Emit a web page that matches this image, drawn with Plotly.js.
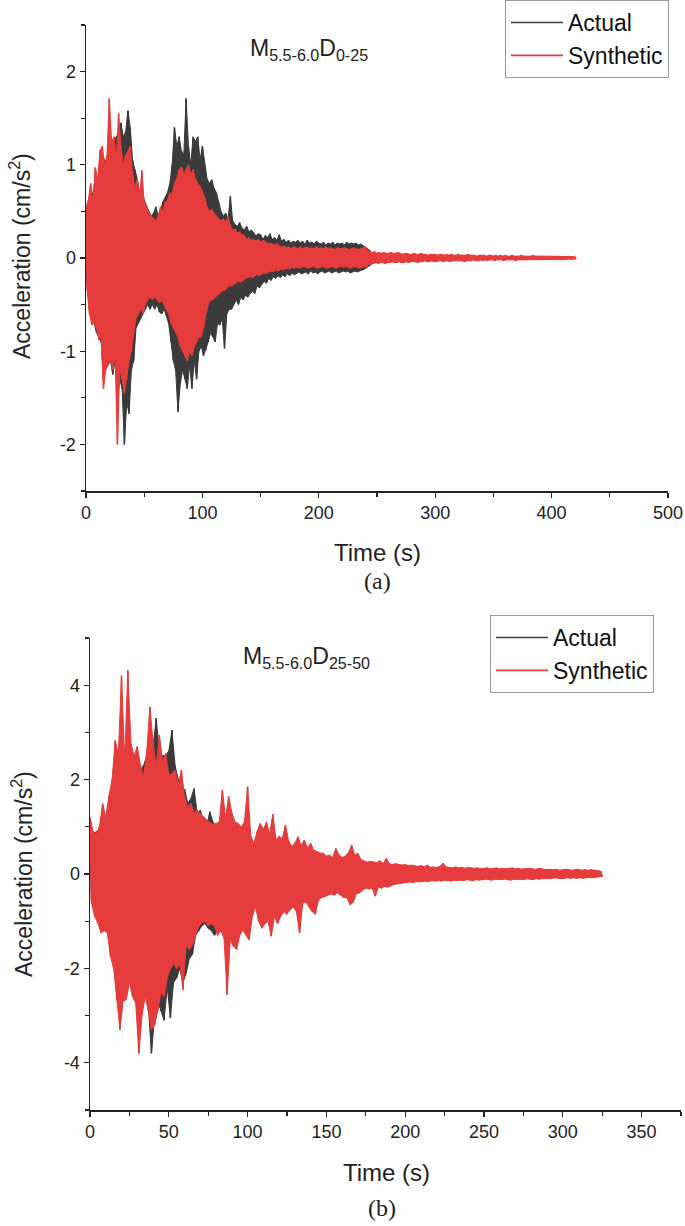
<!DOCTYPE html>
<html>
<head>
<meta charset="utf-8">
<script src="https://cdn.plot.ly/plotly-3.0.1.min.js"></script>
<style>
html,body{margin:0;padding:0;background:#fff;}
#chart{width:685px;height:1226px;}
</style>
</head>
<body>
<div id="chart"></div>
<script>
// ---------------- DATA ----------------
// Sampling of the envelope: one positive peak and one negative peak per bin
const binA = 2;   // s, panel (a)
const binB = 2;   // s, panel (b)

// Panel (a) M5.5-6.0 D0-25 : Synthetic (bins from 0 to 420 s)
const synA_up = [
0.55,0.62,0.80,0.60,0.97,0.85,1.15,1.20,1.00,1.10,
1.71,1.25,1.30,1.05,1.55,1.20,1.00,1.10,1.15,1.20,
0.90,0.75,0.85,0.65,0.94,0.60,0.55,0.48,0.45,0.42,
0.40,0.45,0.55,0.50,0.60,0.62,0.70,0.68,0.80,0.85,
0.95,0.98,0.90,0.95,1.00,0.90,0.95,0.85,0.80,0.77,
0.70,0.65,0.55,0.50,0.52,0.48,0.45,0.42,0.40,0.42,
0.38,0.44,0.35,0.30,0.31,0.27,0.28,0.25,0.24,0.20,
0.22,0.19,0.20,0.18,0.20,0.17,0.19,0.18,0.15,0.16,
0.15,0.14,0.16,0.13,0.12,0.13,0.11,0.12,0.10,0.12,
0.11,0.10,0.12,0.10,0.11,0.12,0.10,0.11,0.10,0.12,
0.10,0.11,0.10,0.12,0.10,0.11,0.10,0.09,0.11,0.10,
0.10,0.11,0.10,0.09,0.10,0.11,0.10,0.09,0.10,0.11,
0.12,0.08,0.07,0.06,0.07,0.05,0.06,0.05,0.06,0.05,
0.05,0.06,0.05,0.05,0.06,0.05,0.04,0.05,0.05,0.04,
0.04,0.05,0.04,0.04,0.05,0.04,0.04,0.03,0.04,0.04,
0.04,0.03,0.04,0.04,0.03,0.04,0.03,0.04,0.03,0.03,
0.04,0.03,0.03,0.03,0.04,0.03,0.03,0.03,0.02,0.03,
0.03,0.03,0.02,0.03,0.03,0.02,0.03,0.02,0.03,0.02,
0.03,0.02,0.02,0.03,0.02,0.02,0.02,0.03,0.02,0.02,
0.02,0.02,0.03,0.02,0.02,0.02,0.02,0.02,0.02,0.02,
0.02,0.015,0.02,0.02,0.015,0.02,0.015,0.02,0.015,0.015,
0.01];
const synA_dn = [
-0.35,-0.60,-0.72,-0.70,-0.75,-0.88,-0.85,-1.40,-1.20,-1.15,
-1.10,-1.20,-1.05,-2.00,-1.20,-1.30,-1.45,-1.30,-1.10,-1.00,
-0.80,-0.65,-0.60,-0.55,-0.60,-0.50,-0.45,-0.42,-0.45,-0.42,
-0.45,-0.48,-0.45,-0.50,-0.55,-0.60,-0.70,-0.74,-0.80,-0.85,
-0.95,-1.00,-1.05,-1.10,-1.00,-1.05,-0.95,-0.90,-0.85,-0.85,
-0.75,-0.60,-0.50,-0.45,-0.45,-0.42,-0.40,-0.38,-0.35,-0.35,
-0.32,-0.30,-0.30,-0.28,-0.27,-0.25,-0.26,-0.24,-0.22,-0.21,
-0.20,-0.21,-0.19,-0.18,-0.19,-0.17,-0.16,-0.17,-0.15,-0.14,
-0.15,-0.13,-0.14,-0.12,-0.13,-0.12,-0.11,-0.12,-0.10,-0.11,
-0.10,-0.11,-0.10,-0.09,-0.10,-0.11,-0.10,-0.09,-0.10,-0.11,
-0.10,-0.09,-0.10,-0.11,-0.10,-0.09,-0.10,-0.11,-0.10,-0.09,
-0.10,-0.09,-0.10,-0.11,-0.10,-0.09,-0.10,-0.11,-0.10,-0.09,
-0.10,-0.07,-0.06,-0.06,-0.05,-0.06,-0.05,-0.05,-0.06,-0.05,
-0.05,-0.04,-0.05,-0.05,-0.04,-0.05,-0.05,-0.04,-0.05,-0.04,
-0.04,-0.04,-0.05,-0.04,-0.04,-0.03,-0.04,-0.04,-0.03,-0.04,
-0.04,-0.03,-0.03,-0.04,-0.03,-0.03,-0.04,-0.03,-0.03,-0.03,
-0.03,-0.03,-0.04,-0.03,-0.03,-0.03,-0.02,-0.03,-0.03,-0.02,
-0.03,-0.02,-0.03,-0.02,-0.02,-0.03,-0.02,-0.02,-0.02,-0.03,
-0.02,-0.02,-0.02,-0.02,-0.03,-0.02,-0.02,-0.02,-0.02,-0.02,
-0.02,-0.02,-0.02,-0.015,-0.02,-0.02,-0.015,-0.02,-0.015,-0.02,
-0.015,-0.02,-0.015,-0.015,-0.02,-0.015,-0.015,-0.01,-0.015,-0.01,
-0.01];

// Panel (a) : Actual (bins from 0 to 244 s; later part hidden under Synthetic)
const actA_up = [
0.50,0.55,0.60,0.70,0.85,0.80,1.00,1.10,1.05,1.00,
1.20,1.10,1.20,1.30,1.35,1.45,1.30,1.35,1.58,1.40,
1.05,0.95,0.85,0.70,0.75,0.62,0.55,0.50,0.45,0.48,
0.55,0.45,0.50,0.60,0.65,0.70,0.80,1.00,1.40,1.20,
1.30,1.15,1.10,1.71,1.20,1.00,1.30,1.25,1.30,1.05,
1.20,1.00,0.85,0.80,0.84,0.75,0.70,0.60,0.50,0.45,
0.48,0.42,0.66,0.40,0.36,0.34,0.38,0.32,0.30,0.34,
0.28,0.30,0.27,0.24,0.26,0.25,0.20,0.24,0.22,0.26,
0.20,0.22,0.19,0.25,0.18,0.20,0.17,0.19,0.16,0.18,
0.17,0.19,0.16,0.18,0.15,0.19,0.16,0.17,0.15,0.18,
0.16,0.15,0.17,0.14,0.16,0.15,0.17,0.14,0.16,0.15,
0.16,0.14,0.17,0.15,0.16,0.15,0.16,0.14,0.15,0.13,
0.12,0.10,0.08];
const actA_dn = [
-0.30,-0.55,-0.65,-0.70,-0.80,-0.85,-0.90,-1.30,-1.10,-1.15,
-1.10,-1.25,-1.10,-1.50,-1.30,-1.40,-2.00,-1.55,-1.67,-1.20,
-1.10,-0.75,-0.70,-0.65,-0.60,-0.55,-0.50,-0.55,-0.50,-0.55,
-0.50,-0.58,-0.60,-0.55,-0.62,-0.70,-0.90,-1.10,-1.20,-1.65,
-1.35,-1.20,-1.30,-1.40,-1.15,-1.40,-1.10,-1.30,-1.00,-0.95,
-1.05,-0.99,-0.90,-0.80,-0.85,-0.90,-0.70,-0.72,-0.65,-0.97,
-0.60,-0.55,-0.55,-0.50,-0.45,-0.50,-0.42,-0.45,-0.40,-0.42,
-0.38,-0.36,-0.38,-0.30,-0.32,-0.28,-0.25,-0.27,-0.22,-0.24,
-0.20,-0.22,-0.19,-0.21,-0.18,-0.20,-0.17,-0.19,-0.16,-0.18,
-0.17,-0.15,-0.17,-0.16,-0.15,-0.17,-0.14,-0.16,-0.15,-0.17,
-0.15,-0.14,-0.16,-0.15,-0.14,-0.16,-0.15,-0.14,-0.16,-0.15,
-0.14,-0.15,-0.14,-0.16,-0.15,-0.14,-0.15,-0.14,-0.13,-0.12,
-0.11,-0.09,-0.07];

// Panel (b) M5.5-6.0 D25-50 : Synthetic (bins from 0 to 324 s)
const synB_up = [
1.20,0.90,0.85,1.00,1.49,1.20,1.65,2.00,2.83,2.55,
4.20,2.40,4.31,2.76,2.50,2.70,2.30,2.05,2.60,3.54,
2.80,2.27,2.94,2.40,2.55,2.10,2.13,2.20,1.90,2.20,
1.63,1.42,1.50,1.30,1.35,1.28,1.20,1.15,1.10,1.05,
1.07,1.10,1.78,1.20,1.64,1.30,1.10,1.07,1.00,1.10,
1.85,0.80,0.65,0.90,1.07,0.95,1.10,0.85,1.27,0.72,
0.80,0.75,1.04,0.70,0.58,0.65,0.79,0.60,0.72,0.55,
0.65,0.50,0.48,0.44,0.44,0.38,0.40,0.35,0.54,0.40,
0.35,0.38,0.45,0.61,0.40,0.44,0.30,0.28,0.25,0.27,
0.25,0.24,0.28,0.22,0.33,0.22,0.20,0.22,0.20,0.19,
0.20,0.18,0.19,0.17,0.16,0.18,0.15,0.19,0.14,0.15,
0.14,0.16,0.23,0.15,0.14,0.13,0.15,0.13,0.14,0.12,
0.14,0.13,0.12,0.13,0.11,0.12,0.13,0.11,0.12,0.13,
0.11,0.12,0.11,0.12,0.13,0.11,0.12,0.10,0.12,0.11,
0.12,0.10,0.11,0.12,0.10,0.09,0.10,0.09,0.10,0.08,
0.09,0.10,0.09,0.08,0.09,0.10,0.08,0.09,0.08,0.09,
0.08,0.07,0.06];
const synB_dn = [
-0.62,-0.90,-1.04,-1.25,-1.20,-1.25,-1.75,-2.00,-2.66,-3.30,
-2.70,-2.66,-2.30,-2.60,-2.73,-3.80,-3.00,-2.60,-2.90,-3.30,
-3.20,-2.90,-2.50,-2.60,-2.20,-2.00,-1.90,-2.00,-1.90,-2.45,
-1.50,-1.60,-1.50,-1.30,-1.10,-1.04,-1.00,-1.10,-1.05,-1.10,
-1.30,-1.20,-1.35,-2.56,-1.40,-1.53,-1.60,-1.30,-1.18,-1.30,
-1.40,-0.90,-0.70,-1.00,-1.15,-1.05,-1.00,-1.32,-0.90,-1.05,
-0.90,-0.80,-0.85,-0.75,-0.70,-0.80,-1.25,-0.62,-0.60,-0.70,
-0.80,-0.85,-0.55,-0.50,-0.48,-0.45,-0.42,-0.45,-0.40,-0.45,
-0.50,-0.50,-0.65,-0.60,-0.42,-0.40,-0.34,-0.30,-0.32,-0.30,
-0.47,-0.28,-0.30,-0.26,-0.28,-0.25,-0.22,-0.21,-0.20,-0.19,
-0.18,-0.17,-0.18,-0.16,-0.17,-0.16,-0.15,-0.16,-0.14,-0.15,
-0.14,-0.15,-0.13,-0.14,-0.15,-0.13,-0.14,-0.13,-0.14,-0.12,
-0.13,-0.14,-0.12,-0.13,-0.12,-0.11,-0.12,-0.13,-0.11,-0.12,
-0.12,-0.11,-0.12,-0.13,-0.11,-0.12,-0.11,-0.12,-0.10,-0.11,
-0.12,-0.10,-0.11,-0.10,-0.09,-0.10,-0.09,-0.08,-0.09,-0.10,
-0.09,-0.08,-0.09,-0.08,-0.09,-0.08,-0.09,-0.08,-0.07,-0.08,
-0.07,-0.06,-0.05];

// Panel (b) : Actual (bins from 0 to 110 s; later part hidden under Synthetic)
const actB_up = [
1.00,0.80,0.90,0.95,1.20,1.10,1.50,1.80,2.50,2.30,
3.20,2.50,3.00,2.60,2.40,2.50,2.20,2.30,2.50,2.60,
2.70,3.30,2.60,2.50,2.52,2.60,3.05,2.30,2.00,1.70,
1.80,1.50,1.60,1.81,1.30,1.35,1.10,1.00,1.32,1.10,
0.95,0.90,1.00,0.90,1.10,0.95,0.90,0.85,0.80,0.90,
0.85,0.70,0.60,0.75,0.80,0.70];
const actB_dn = [
-0.55,-0.80,-0.90,-1.10,-1.10,-1.20,-1.60,-1.90,-2.40,-3.00,
-2.50,-2.50,-2.20,-2.50,-2.60,-3.20,-2.80,-2.50,-2.80,-3.80,
-3.00,-2.70,-2.90,-3.10,-2.40,-3.05,-2.30,-2.20,-2.00,-2.30,
-2.10,-1.80,-1.70,-1.30,-1.20,-1.10,-1.05,-1.15,-1.20,-1.30,
-1.20,-1.10,-1.20,-1.30,-1.20,-1.30,-1.20,-1.10,-1.00,-1.10,
-1.10,-0.80,-0.65,-0.90,-1.00,-0.90];

// Axis tick labels
const xTicksA = [0,100,200,300,400,500];
const yTickValsA = [-2,-1,0,1,2];
const yTickTextA = ["-2","-1","0","1","2"];
const xTicksB = [0,50,100,150,200,250,300,350];
const yTickValsB = [-4,-2,0,2,4];
const yTickTextB = ["-4","-2","0","2","4"];

const seriesNames = ["Actual","Synthetic"];
const panelTitles = ["M<sub>5.5-6.0</sub>D<sub>0-25</sub>","M<sub>5.5-6.0</sub>D<sub>25-50</sub>"];
const panelLabels = ["(a)","(b)"];
const xTitle = "Time (s)";
const yTitle = "Acceleration (cm/s<sup>2</sup>)";

// ---------------- BUILD ----------------
// zig-zag trace: positive peak at start of each bin, negative peak at mid-bin
function zig(up, dn, dt){
  const x=[], y=[];
  for(let i=0;i<up.length;i++){
    x.push(i*dt);        y.push(up[i]);
    x.push(i*dt+dt/2);   y.push(dn[i]);
  }
  return {x, y};
}
// closed outline of the same peaks (upper peaks forward, lower peaks back) for a solid body
function band(up, dn, dt){
  const x=[], y=[];
  for(let i=0;i<up.length;i++){ x.push(i*dt); y.push(up[i]); }
  for(let i=dn.length-1;i>=0;i--){ x.push(i*dt+dt/2); y.push(dn[i]); }
  return {x, y};
}
const cAct = '#3b3b3b', cSyn = '#e63c3c';
const fam = 'Liberation Sans, Arial, sans-serif';

function seriesTraces(up, dn, dt, name, color, xa, ya, lg){
  const b = band(up, dn, dt), z = zig(up, dn, dt);
  return [
    {x:b.x, y:b.y, type:'scatter', mode:'lines', fill:'toself', fillcolor:color, line:{color:color, width:1},
     showlegend:false, legend:'legend3', xaxis:xa, yaxis:ya, hoverinfo:'skip'},
    {x:z.x, y:z.y, type:'scatter', mode:'lines', name:name, line:{color:color, width:1.6},
     xaxis:xa, yaxis:ya, legend:lg}
  ];
}

const traces = [].concat(
  seriesTraces(actA_up, actA_dn, binA, seriesNames[0], cAct, 'x', 'y', 'legend'),
  seriesTraces(synA_up, synA_dn, binA, seriesNames[1], cSyn, 'x', 'y', 'legend'),
  seriesTraces(actB_up, actB_dn, binB, seriesNames[0], cAct, 'x2', 'y2', 'legend2'),
  seriesTraces(synB_up, synB_dn, binB, seriesNames[1], cSyn, 'x2', 'y2', 'legend2')
);

const W=685, H=1226;
const px = v => v/W, py = v => 1 - v/H;

const axBase = {
  showline:true, linecolor:'#222', linewidth:1.5, mirror:false,
  showgrid:false, zeroline:false,
  ticks:'outside', ticklen:5, tickwidth:1.2, tickcolor:'#222',
  tickfont:{family:fam, size:18, color:'#222'}
};

const legBase = {xanchor:'left', yanchor:'top', bgcolor:'#fff', bordercolor:'#999', borderwidth:1,
                 font:{family:fam, size:23, color:'#111'}, tracegroupgap:0, itemwidth:52};

const layout = {
  width:W, height:H,
  margin:{l:0,r:0,t:0,b:0},
  paper_bgcolor:'#fff', plot_bgcolor:'#fff',
  showlegend:true,
  xaxis: Object.assign({}, axBase, {domain:[px(86),px(668)], range:[0,500], tickvals:xTicksA,
          minor:{dtick:50, ticks:'outside', ticklen:4, tickcolor:'#222'}, anchor:'y'}),
  yaxis: Object.assign({}, axBase, {domain:[py(491),py(25)], range:[-2.5,2.5], tickvals:yTickValsA, ticktext:yTickTextA,
          minor:{dtick:0.5, ticks:'outside', ticklen:4, tickcolor:'#222'}, anchor:'x'}),
  xaxis2: Object.assign({}, axBase, {domain:[px(90),px(681)], range:[0,375], tickvals:xTicksB,
          minor:{dtick:25, ticks:'outside', ticklen:4, tickcolor:'#222'}, anchor:'y2'}),
  yaxis2: Object.assign({}, axBase, {domain:[py(1110),py(638)], range:[-5,5], tickvals:yTickValsB, ticktext:yTickTextB,
          minor:{dtick:1, ticks:'outside', ticklen:4, tickcolor:'#222'}, anchor:'x2'}),
  legend: Object.assign({}, legBase, {x:px(505), y:py(0)}),
  legend2: Object.assign({}, legBase, {x:px(490), y:py(615)}),
  legend3: {visible:false},
  annotations:[
    {text:panelTitles[0], x:px(309), y:py(50), xref:'paper', yref:'paper', showarrow:false, xanchor:'center', yanchor:'middle', font:{family:fam, size:23, color:'#222'}},
    {text:panelTitles[1], x:px(306), y:py(657), xref:'paper', yref:'paper', showarrow:false, xanchor:'center', yanchor:'middle', font:{family:fam, size:23, color:'#222'}},
    {text:yTitle, textangle:-90, x:px(20), y:py(256), xref:'paper', yref:'paper', showarrow:false, xanchor:'center', yanchor:'middle', font:{family:fam, size:23, color:'#222'}},
    {text:yTitle, textangle:-90, x:px(22), y:py(874), xref:'paper', yref:'paper', showarrow:false, xanchor:'center', yanchor:'middle', font:{family:fam, size:23, color:'#222'}},
    {text:xTitle, x:px(377), y:py(552), xref:'paper', yref:'paper', showarrow:false, xanchor:'center', yanchor:'middle', font:{family:fam, size:24, color:'#222'}},
    {text:xTitle, x:px(386), y:py(1172), xref:'paper', yref:'paper', showarrow:false, xanchor:'center', yanchor:'middle', font:{family:fam, size:24, color:'#222'}},
    {text:panelLabels[0], x:px(377), y:py(581), xref:'paper', yref:'paper', showarrow:false, xanchor:'center', yanchor:'middle', font:{family:'Liberation Serif, Times New Roman, serif', size:24, color:'#222'}},
    {text:panelLabels[1], x:px(382), y:py(1208), xref:'paper', yref:'paper', showarrow:false, xanchor:'center', yanchor:'middle', font:{family:'Liberation Serif, Times New Roman, serif', size:24, color:'#222'}}
  ]
};

Plotly.newPlot('chart', traces, layout, {staticPlot:true, displayModeBar:false});
</script>
</body>
</html>
